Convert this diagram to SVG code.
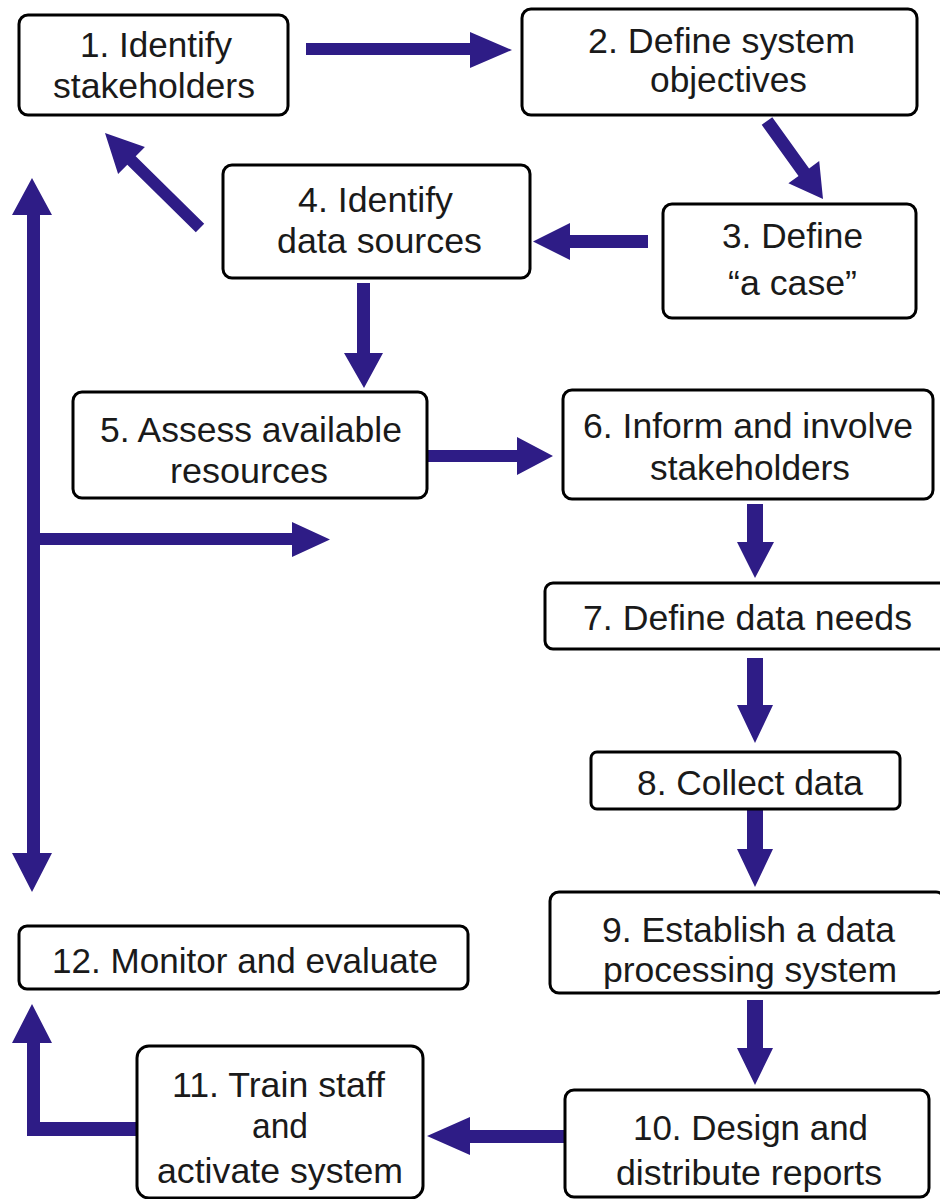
<svg xmlns="http://www.w3.org/2000/svg" width="940" height="1199" viewBox="0 0 940 1199">
<style>
.box{fill:#fff;stroke:#000;stroke-width:3}
.t{font-family:"Liberation Sans",Arial,sans-serif;font-size:35px;fill:#1a1a1a;text-anchor:middle}
.arr{fill:#2E1C86;stroke:none}
</style>
<rect width="940" height="1199" fill="#fff"/>
<g id="connectors">
<path class="arr" d="M306,43 H470 V32 L512,50 L470,68 V55 H306 Z"/>
<polygon class="arr" points="772.3,117.2 809.1,168.4 819.2,161.1 823,199 788.4,183.3 798.5,176 761.7,124.8"/>
<path class="arr" d="M648,235 H570 V223 L533,241.5 L570,260 V248 H648 Z"/>
<polygon class="arr" points="204.2,223.8 135.7,156.3 144.9,147.1 105,133 118.1,173.9 127.3,164.7 195.8,232.2"/>
<path class="arr" d="M27,215 H12 L32,178 L52,215 H40 V533 H292 V522 L330,539.5 L292,557 V545 H40 V853 H52 L32,892 L12,853 H27 Z"/>
<path class="arr" d="M357,283 V353 H344 L364,388 L383,353 H370 V283 Z"/>
<path class="arr" d="M427,450 H517 V437 L553,456 L517,475 V462 H427 Z"/>
<path class="arr" d="M747,504 V542 H737 L755,578 L774,542 H763 V504 Z"/>
<path class="arr" d="M747,658 V705 H737 L755,743 L773,705 H763 V658 Z"/>
<path class="arr" d="M747,810 V849 H737 L755,887 L773,849 H763 V810 Z"/>
<path class="arr" d="M747,1000 V1048 H737 L755,1085 L773,1048 H763 V1000 Z"/>
<path class="arr" d="M565,1130 H470 V1117 L427,1136 L470,1155 V1143 H565 Z"/>
<path class="arr" d="M137,1122 H40 V1043 H52 L32,1004 L12,1043 H27 V1136 H137 Z"/>
</g>
<g id="n1"><rect class="box" x="19" y="15" width="269" height="100" rx="9"/>
<text class="t" x="156" y="57" textLength="152" lengthAdjust="spacingAndGlyphs">1. Identify</text>
<text class="t" x="154" y="98" textLength="202" lengthAdjust="spacingAndGlyphs">stakeholders</text></g>
<g id="n2"><rect class="box" x="522" y="9" width="395" height="106" rx="9"/>
<text class="t" x="721.5" y="53" textLength="267" lengthAdjust="spacingAndGlyphs">2. Define system</text>
<text class="t" x="728.5" y="92" textLength="157" lengthAdjust="spacingAndGlyphs">objectives</text></g>
<g id="n3"><rect class="box" x="663" y="204" width="253" height="114" rx="9"/>
<text class="t" x="792.5" y="248" textLength="141" lengthAdjust="spacingAndGlyphs">3. Define</text>
<text class="t" x="792.5" y="295" textLength="129" lengthAdjust="spacingAndGlyphs">“a case”</text></g>
<g id="n4"><rect class="box" x="223" y="165" width="307" height="113" rx="9"/>
<text class="t" x="375.5" y="212" textLength="155" lengthAdjust="spacingAndGlyphs">4. Identify</text>
<text class="t" x="379.5" y="253" textLength="205" lengthAdjust="spacingAndGlyphs">data sources</text></g>
<g id="n5"><rect class="box" x="73" y="392" width="354" height="106" rx="9"/>
<text class="t" x="251" y="442" textLength="302" lengthAdjust="spacingAndGlyphs">5. Assess available</text>
<text class="t" x="249" y="483" textLength="158" lengthAdjust="spacingAndGlyphs">resources</text></g>
<g id="n6"><rect class="box" x="563" y="390" width="370" height="109" rx="9"/>
<text class="t" x="748" y="438" textLength="330" lengthAdjust="spacingAndGlyphs">6. Inform and involve</text>
<text class="t" x="750" y="480" textLength="200" lengthAdjust="spacingAndGlyphs">stakeholders</text></g>
<g id="n7"><rect class="box" x="545" y="583" width="410" height="66" rx="8"/>
<text class="t" x="747.5" y="630" textLength="329" lengthAdjust="spacingAndGlyphs">7. Define data needs</text></g>
<g id="n8"><rect class="box" x="591" y="752" width="309" height="57" rx="6"/>
<text class="t" x="750" y="795" textLength="226" lengthAdjust="spacingAndGlyphs">8. Collect data</text></g>
<g id="n9"><rect class="box" x="550" y="892" width="395" height="101" rx="9"/>
<text class="t" x="748.5" y="942" textLength="293" lengthAdjust="spacingAndGlyphs">9. Establish a data</text>
<text class="t" x="750" y="982" textLength="294" lengthAdjust="spacingAndGlyphs">processing system</text></g>
<g id="n10"><rect class="box" x="565" y="1090" width="364" height="107" rx="9"/>
<text class="t" x="750.5" y="1140" textLength="235" lengthAdjust="spacingAndGlyphs">10. Design and</text>
<text class="t" x="749" y="1185" textLength="266" lengthAdjust="spacingAndGlyphs">distribute reports</text></g>
<g id="n11"><rect class="box" x="137" y="1046" width="286" height="152" rx="12"/>
<text class="t" x="278.5" y="1097" textLength="213" lengthAdjust="spacingAndGlyphs">11. Train staff</text>
<text class="t" x="280" y="1138" textLength="56" lengthAdjust="spacingAndGlyphs">and</text>
<text class="t" x="280" y="1183" textLength="246" lengthAdjust="spacingAndGlyphs">activate system</text></g>
<g id="n12"><rect class="box" x="19" y="926" width="449" height="63" rx="8"/>
<text class="t" x="245" y="973" textLength="386" lengthAdjust="spacingAndGlyphs">12. Monitor and evaluate</text></g>
</svg>
